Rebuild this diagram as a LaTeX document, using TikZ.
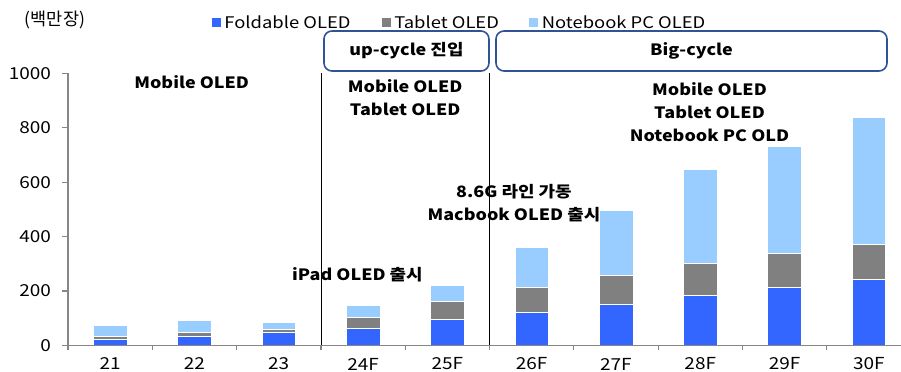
\documentclass[tikz,border=0pt]{standalone}
\usepackage{fontspec}
\setmainfont{Noto Sans CJK KR}[FakeStretch=1.15]
\newfontfamily\krplain{Noto Sans CJK KR}
\usetikzlibrary{positioning}
\definecolor{Fc}{HTML}{3366FF}
\definecolor{Tc}{HTML}{808080}
\definecolor{Nc}{HTML}{99CCFF}
\definecolor{Ac}{HTML}{868686}
\definecolor{Bc}{HTML}{2F5496}
\tikzset{
  seg/.style={draw=white, line width=0.5pt},
  ax/.style={draw=Ac, line width=1.2pt},
  num/.style={font=\fontsize{16.5}{18}\selectfont, inner sep=0pt},
  lbl/.style={font=\fontsize{16}{18}\selectfont, inner sep=0pt},
  note/.style={font=\fontsize{15.6}{23.3}\selectfont\bfseries, align=center, inner sep=0pt},
  phase/.style={draw=Bc, line width=1.6pt, rounded corners=8pt, minimum height=40pt, inner sep=0pt, font=\fontsize{15.6}{18}\selectfont\bfseries},
  key/.style={inner sep=0pt, minimum size=9pt},
  divider/.style={black, line width=0.8pt},
}
% category #1, cumulative tops #2 #3 #4
\newcommand{\stackbar}[4]{%
  \fill[Fc, seg] (#1+0.3,0) rectangle (#1+0.7,#2);
  \fill[Tc, seg] (#1+0.3,#2) rectangle (#1+0.7,#3);
  \fill[Nc, seg] (#1+0.3,#3) rectangle (#1+0.7,#4);}
\begin{document}
\begin{tikzpicture}[x=84.3pt, y=0.272pt]
  \useasboundingbox (-0.8066,-97.4) rectangle (9.8814,1270.2);
  \foreach \i/\f/\t/\n in {0/23/33/73, 1/34/50/94, 2/47/61/87, 3/65/104/147,
    4/97/164/221, 5/123/213/360, 6/151/260/496, 7/184/304/647,
    8/213/338/733, 9/243/374/839}
    {\stackbar{\i}{\f}{\t}{\n}}
  \draw[ax] (0,1000) -- (0,0) -- (9.8814,0);
  \foreach \v in {0,200,...,1000}{
    \draw[ax] (-0.071,\v) -- (0,\v);
    \node[num, anchor=east] (y\v) at (-0.2,\v) {\v};}
  \foreach \i/\lab in {0/21,1/22,2/23,3/24F,4/25F,5/26F,6/27F,7/28F,8/29F,9/30F}{
    \draw[ax] (\i,0) -- (\i,-18);
    \node[num] (x\i) at (\i+0.5,-68) {\lab};}
  \draw[divider] (3,0) -- (3,1000);
  \draw[divider] (5,0) -- (5,1000);
  \node[lbl, font=\krplain\fontsize{17.5}{19}\selectfont] (unit) at (-0.154,1198.5) {(백만장)};
  \node[key, fill=Fc] (kF) at (1.762,1187.5) {};
  \node[lbl, right=3pt of kF] (tF) {Foldable OLED};
  \node[key, fill=Tc, right=31pt of tF] (kT) {};
  \node[lbl, right=3pt of kT] (tT) {Tablet OLED};
  \node[key, fill=Nc, right=30pt of tT] (kN) {};
  \node[lbl, right=3pt of kN] (tN) {Notebook PC OLED};
  \node[phase, minimum width=165pt] (up) at (4.015,1082.7) {up-cycle 진입};
  \node[phase, minimum width=391pt] (big) at (7.396,1082.7) {Big-cycle};
  \node[note] (m1) at (1.467,970) {Mobile OLED};
  \node[note] (m2) at (4.0,912.5) {Mobile OLED\\Tablet OLED};
  \node[note] (m3) at (7.61,858) {Mobile OLED\\Tablet OLED\\Notebook PC OLD};
  \node[note] (ipad) at (3.434,259) {iPad OLED 출시};
  \node[note] (mac) at (5.29,523) {8.6G 라인 가동\\Macbook OLED 출시};
\end{tikzpicture}
\end{document}
